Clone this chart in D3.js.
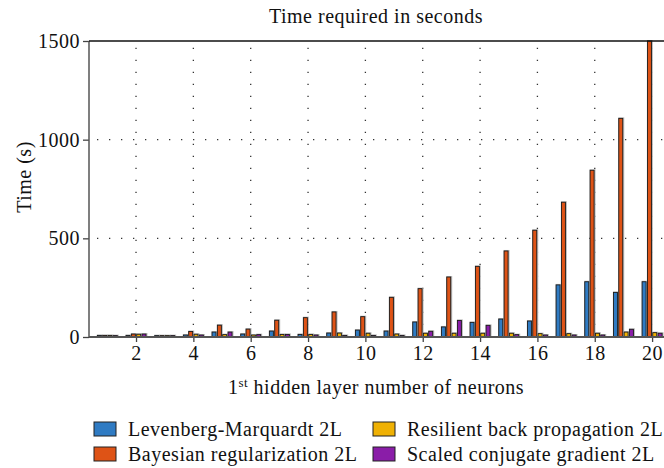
<!DOCTYPE html>
<html>
<head>
<meta charset="utf-8">
<script src="https://cdn.jsdelivr.net/npm/d3@7"></script>
<style>
    body { margin: 0; background: #fff; }
    svg text { font-family: 'Liberation Serif', 'DejaVu Serif', serif; fill: #111; letter-spacing: 0.5px; }
</style>
</head>
<body>
<div id="draw"></div>
<script>
// data
let neurons = d3.range(1, 21);
let series = ['Levenberg-Marquardt 2L', 'Bayesian regularization 2L', 'Resilient back propagation 2L', 'Scaled conjugate gradient 2L'];
let lm = [8, 8, 7, 10, 25, 15, 30, 13, 20, 35, 30, 76, 51, 74, 91, 81, 264, 280, 226, 280];
let br = [8, 15, 7, 28, 60, 40, 85, 98, 127, 103, 201, 245, 304, 358, 436, 541, 683, 845, 1108, 1500];
let rp = [8, 14, 7, 14, 12, 10, 13, 13, 20, 19, 15, 19, 19, 19, 19, 17, 17, 19, 25, 22];
let scg = [7, 15, 7, 10, 25, 12, 13, 10, 8, 8, 8, 29, 84, 59, 12, 10, 10, 10, 39, 19];
let xTicks = [2, 4, 6, 8, 10, 12, 14, 16, 18, 20];
let yTicks = [0, 500, 1000, 1500];
let values = [lm, br, rp, scg];
let colors = ['#2f7bc3', '#de5316', '#efb104', '#8a1da8'];

// parameters
let width = 664, height = 468;
let plot = { left: 89, right: 665, top: 41, bottom: 337 };
let bar_w = 4, bar_step = 5.33;
let font = "'Liberation Serif', 'DejaVu Serif', serif";
let fs = '20px';

let x = d3.scaleLinear().domain([0.36, 20.45]).range([plot.left, plot.right]);
let y = d3.scaleLinear().domain([0, 1500]).range([plot.bottom, plot.top]);

let svg = d3.select('#draw').append('svg').attr('width', width).attr('height', height);

// grid
svg.append('g')
    .selectAll('line')
    .data(xTicks)
    .enter()
    .append('line')
    .attr('x1', d => x(d)).attr('x2', d => x(d))
    .attr('y1', plot.bottom).attr('y2', plot.top)
    .style('stroke', '#333')
    .style('stroke-width', 1.3)
    .style('stroke-dasharray', '1.3,10.7');

svg.append('g')
    .selectAll('line')
    .data(yTicks.slice(1, 3))
    .enter()
    .append('line')
    .attr('x1', plot.left).attr('x2', width)
    .attr('y1', d => y(d)).attr('y2', d => y(d))
    .style('stroke', '#333')
    .style('stroke-width', 1.3)
    .style('stroke-dasharray', '1.3,10.7')
    .style('stroke-dashoffset', -8);

// bars
let groups = svg.append('g')
    .selectAll('g')
    .data(values)
    .enter()
    .append('g')
    .attr('transform', (d, i) => 'translate(' + ((i - 1.5) * bar_step - bar_w / 2) + ',0)');

groups.selectAll('rect.shadow')
    .data(d => d)
    .enter()
    .append('rect')
    .attr('class', 'shadow')
    .attr('x', (d, i) => x(neurons[i]) - 0.5)
    .attr('y', d => y(d) - 1)
    .attr('width', bar_w + 2)
    .attr('height', d => plot.bottom - y(d) + 1)
    .style('fill', '#bdbdbd');

groups.selectAll('rect.bar')
    .data((d, i) => d.map(v => ({ v: v, c: colors[i] })))
    .enter()
    .append('rect')
    .attr('class', 'bar')
    .attr('x', (d, i) => x(neurons[i]))
    .attr('y', d => y(d.v))
    .attr('width', bar_w)
    .attr('height', d => plot.bottom - y(d.v))
    .style('fill', d => d.c)
    .style('stroke', '#1a1a1a')
    .style('stroke-width', 0.9);

// axes
let xAxis = svg.append('g')
    .attr('transform', 'translate(0,' + plot.bottom + ')')
    .call(d3.axisBottom(x).tickValues(xTicks).tickFormat(d3.format('d')).tickSize(5).tickPadding(4));
let yAxis = svg.append('g')
    .attr('transform', 'translate(' + plot.left + ',0)')
    .call(d3.axisLeft(y).tickValues(yTicks).tickFormat(d3.format('d')).tickSize(6).tickPadding(3));

[xAxis, yAxis].forEach(a => {
    a.attr('font-family', font);
    a.select('.domain').remove();
    a.selectAll('line').style('stroke', '#444').style('stroke-width', 1.3);
    a.selectAll('text').style('font-size', fs).style('font-family', font).style('fill', '#111');
});
xAxis.selectAll('text').attr('dy', '0.72em');

svg.append('line')
    .attr('x1', plot.left).attr('x2', width)
    .attr('y1', plot.bottom).attr('y2', plot.bottom)
    .style('stroke', '#555').style('stroke-width', 2);
svg.append('line')
    .attr('x1', plot.left).attr('x2', plot.left)
    .attr('y1', plot.top).attr('y2', plot.bottom)
    .style('stroke', '#555').style('stroke-width', 1.5);
svg.append('line')
    .attr('x1', plot.left).attr('x2', width)
    .attr('y1', plot.top).attr('y2', plot.top)
    .style('stroke', '#111').style('stroke-width', 1.5);

// titles
svg.append('text')
    .attr('x', 376).attr('y', 23)
    .attr('text-anchor', 'middle')
    .style('font-size', fs)
    .style('font-family', font)
    .text('Time required in seconds');

svg.append('text')
    .attr('transform', 'translate(31,177) rotate(-90)')
    .attr('text-anchor', 'middle')
    .style('font-size', fs)
    .style('font-family', font)
    .text('Time (s)');

let xt = svg.append('text')
    .attr('x', 376).attr('y', 394)
    .attr('text-anchor', 'middle')
    .style('font-size', fs)
    .style('font-family', font);
xt.append('tspan').text('1');
xt.append('tspan').attr('dy', -7).style('font-size', '13px').text('st');
xt.append('tspan').attr('dy', 7).text(' hidden layer number of neurons');

// legend
let legend = svg.append('g')
    .selectAll('g')
    .data(series)
    .enter()
    .append('g')
    .attr('transform', (d, i) => 'translate(' + (i < 2 ? 94 : 373) + ',' + (i % 2 == 0 ? 422 : 447) + ')');
legend.append('rect')
    .attr('width', 22).attr('height', 14)
    .style('fill', (d, i) => colors[i])
    .style('stroke', '#222').style('stroke-width', 1);
legend.append('text')
    .attr('x', 34).attr('y', 13.5)
    .style('font-size', fs)
    .style('font-family', font)
    .text(d => d);
</script>
</body>
</html>
